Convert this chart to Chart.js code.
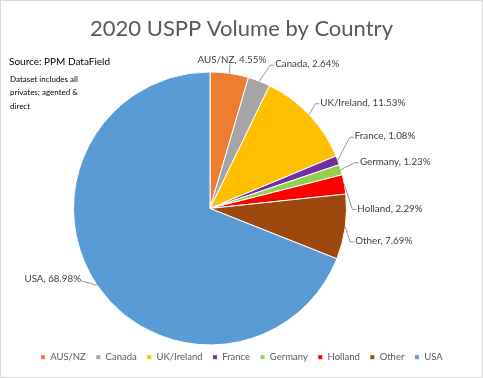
<!DOCTYPE html>
<html><head><meta charset="utf-8">
<script src="https://cdn.jsdelivr.net/npm/chart.js@4/dist/chart.umd.min.js"></script>
<style>html,body{margin:0;padding:0;background:#fff}canvas{display:block}</style>
</head><body>
<canvas id="c" width="483" height="378"></canvas>
<script>
const categories = ['AUS/NZ','Canada','UK/Ireland','France','Germany','Holland','Other','USA'];
const shares = [4.55, 2.64, 11.53, 1.08, 1.23, 2.29, 7.69, 68.98];
const colors = ['#ED7D31','#A5A5A5','#FFC000','#7030A0','#92D050','#FF0000','#9E480E','#5B9BD5'];
const titleText = '2020 USPP Volume by Country';
const sourceText = 'Source: PPM DataField';
const noteLines = ['Dataset includes all','privates; agented &','direct'];

// leader-line end offsets from each slice's outer edge midpoint, and text side
const labelOffsets = [[0.5,-9,'top'],[11,-16,'right'],[6,-11,'right'],[12,-23,'right'],[14,-7,'right'],[8,25,'right'],[5,15,'right'],[-15,-4,'left']];

const FONT = 'Lato, "Open Sans", sans-serif';

const insetPlugin = {
  id: 'inset',
  afterLayout(chart, args, opts) {
    const a = chart.chartArea;
    a.left += opts.left; a.right -= opts.right; a.top += opts.top; a.bottom -= opts.bottom;
    a.width = a.right - a.left; a.height = a.bottom - a.top;
  }
};

const labelPlugin = {
  id: 'sliceLabels',
  afterDatasetsDraw(chart) {
    const ctx = chart.ctx;
    const arcs = chart.getDatasetMeta(0).data;
    ctx.save();
    ctx.font = '9.8px ' + FONT;
    ctx.fillStyle = '#404040';
    ctx.strokeStyle = '#7f7f7f';
    ctx.lineWidth = 0.8;
    arcs.forEach((arc, i) => {
      const p = arc.getProps(['x','y','startAngle','endAngle','outerRadius'], true);
      const mid = (p.startAngle + p.endAngle) / 2;
      const ex = p.x + Math.cos(mid) * p.outerRadius;
      const ey = p.y + Math.sin(mid) * p.outerRadius;
      const [dx, dy, side] = labelOffsets[i];
      const lx = ex + dx, ly = ey + dy;
      ctx.beginPath(); ctx.moveTo(ex, ey); ctx.lineTo(lx, ly);
      const txt = categories[i] + ', ' + shares[i].toFixed(2) + '%';
      if (side === 'right') {
        ctx.lineTo(lx + 4, ly); ctx.stroke();
        ctx.textAlign = 'left'; ctx.textBaseline = 'middle';
        ctx.fillText(txt, lx + 5, ly - 1);
      } else if (side === 'left') {
        ctx.lineTo(lx - 1, ly); ctx.stroke();
        ctx.textAlign = 'right'; ctx.textBaseline = 'middle';
        ctx.fillText(txt, lx - 1, ly - 2);
      } else {
        ctx.stroke();
        ctx.textAlign = 'center'; ctx.textBaseline = 'bottom';
        ctx.fillText(txt, lx + 2, ly);
      }
    });
    ctx.restore();
  }
};

const notesPlugin = {
  id: 'notes',
  afterDraw(chart) {
    const ctx = chart.ctx;
    ctx.save();
    ctx.fillStyle = '#000';
    ctx.textAlign = 'left'; ctx.textBaseline = 'middle';
    ctx.font = '10px ' + FONT;
    ctx.fillText(sourceText, 9, 62);
    ctx.font = '8px ' + FONT;
    noteLines.forEach((t, i) => ctx.fillText(t, 10, 79 + i * 13.5));
    ctx.strokeStyle = '#d9d9d9'; ctx.lineWidth = 1;
    ctx.strokeRect(0.5, 0.5, chart.width - 1, chart.height - 1);
    ctx.restore();
  }
};

new Chart(document.getElementById('c'), {
  type: 'pie',
  data: {
    labels: categories,
    datasets: [{ data: shares, backgroundColor: colors, borderColor: '#fff', borderWidth: 1 }]
  },
  options: {
    responsive: false,
    devicePixelRatio: 1,
    animation: false,
    layout: { padding: { bottom: 6 } },
    plugins: {
      inset: { left: 73, right: 136, top: 27, bottom: -5 },
      title: { display: true, text: titleText, color: '#595959', font: { family: FONT, size: 22, weight: 'normal' }, padding: { top: 16, bottom: 0 } },
      legend: { position: 'bottom', labels: { boxWidth: 5, boxHeight: 5, color: '#595959', padding: 10, font: { family: FONT, size: 9.5 } } },
      tooltip: { enabled: false }
    }
  },
  plugins: [insetPlugin, labelPlugin, notesPlugin]
});
</script>
</body></html>
